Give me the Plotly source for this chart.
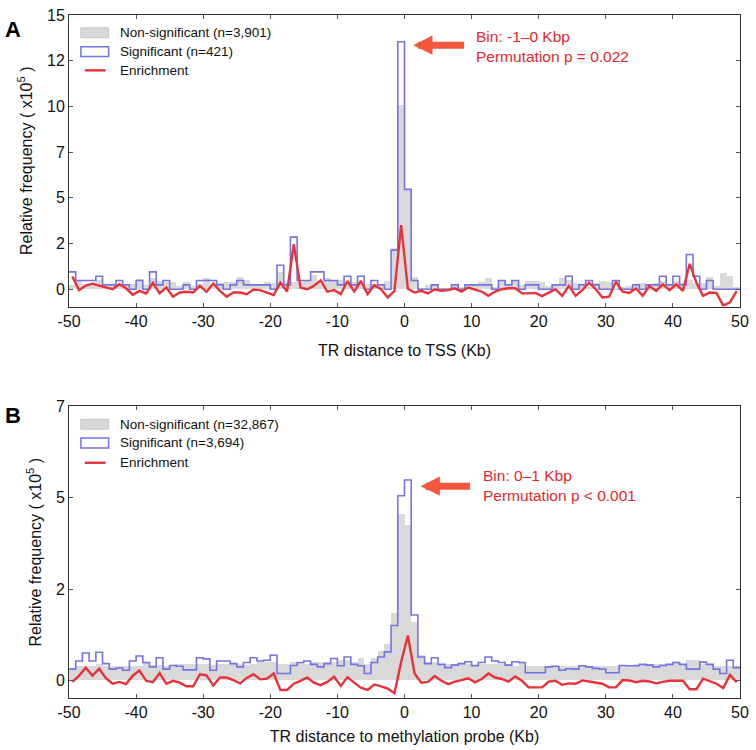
import plotly.graph_objects as go

# ---------------- data ----------------
bin_left = list(range(-50, 50))          # 1-Kbp bins, left edges
bin_center = [b + 0.5 for b in bin_left]
x_ticks = [-50, -40, -30, -20, -10, 0, 10, 20, 30, 40, 50]
x_ticktext = ["-50", "-40", "-30", "-20", "-10", "0", "10", "20", "30", "40", "50"]

yA_ticks = [0, 2.5, 5, 7.5, 10, 12.5, 15]
yA_ticktext = ["0", "2", "5", "7", "10", "12", "15"]
yB_ticks = [0, 2.5, 5, 7.5]
yB_ticktext = ["0", "2", "5", "7"]

# Panel A (TR distance to TSS)
nonsig_A = [0.25, 0.52, 0.28, 0.18, 0.5, 0.15, 0.24, 0.2, 0.19, 0.3,
            0.56, 0.23, 0.6, 0.46, 0.38, 0.41, 0.18, 0.38, 0.18, 0.3,
            0.6, 0.17, 0.33, 0.41, 0.42, 0.65, 0.5, 0.26, 0.29, 0.42,
            0.32, 0.96, 0.37, 0.4, 0.39, 0.475, 0.77, 0.46, 0.6, 0.52,
            0.5, 0.26, 0.37, 0.26, 0.27, 0.26, 0.24, 0.45, 2.24, 10.05,
            5.44, 0.65, 0.09, 0.23, 0.24, 0.09, 0.05, 0.19, 0.13, 0.15,
            0.24, 0.37, 0.6, 0.13, 0.475, 0.19, 0.43, 0.23, 0.47, 0.44,
            0.38, 0.2, 0.24, 0.6, 0.53, 0.36, 0.29, 0.12, 0.35, 0.45,
            0.41, 0.07, 0.13, 0.2, 0.2, 0.36, 0.06, 0.33, 0.44, 0.29,
            0.44, 0.33, 0.51, 0.35, 0.36, 0.65, 0.2, 0.9, 0.72, 0.1]
sig_A = [0.95, 0.475, 0.475, 0.475, 0.71, 0.24, 0.24, 0.475, 0.24, 0.0,
         0.475, 0.0, 0.95, 0.24, 0.475, 0.0, 0.0, 0.24, 0.0, 0.475,
         0.475, 0.475, 0.24, 0.0, 0.24, 0.475, 0.24, 0.24, 0.24, 0.24,
         0.0, 1.31, 0.24, 2.85, 0.475, 0.475, 0.95, 0.95, 0.475, 0.475,
         0.24, 0.71, 0.24, 0.71, 0.0, 0.475, 0.24, 0.0, 2.14, 13.54,
         5.46, 0.475, 0.0, 0.0, 0.24, 0.0, 0.0, 0.24, 0.0, 0.24,
         0.24, 0.24, 0.24, 0.0, 0.475, 0.24, 0.475, 0.0, 0.24, 0.24,
         0.0, 0.0, 0.24, 0.24, 0.71, 0.0, 0.24, 0.475, 0.24, 0.0,
         0.0, 0.475, 0.0, 0.0, 0.24, 0.0, 0.24, 0.24, 0.71, 0.24,
         0.71, 0.24, 1.9, 0.71, 0.0, 0.475, 0.0, 0.0, 0.0, 0.0]
enrich_A = [0.7, -0.05, 0.2, 0.3, 0.2, 0.09, 0.0, 0.27, 0.05, -0.3,
            -0.09, -0.23, 0.34, -0.22, 0.09, -0.41, -0.18, -0.14, -0.18, 0.18,
            -0.14, 0.31, -0.09, -0.41, -0.18, -0.18, -0.27, -0.02, -0.05, -0.18,
            -0.32, 0.36, -0.13, 2.47, 0.09, 0.0, 0.18, 0.49, -0.13, -0.05,
            -0.27, 0.45, -0.13, 0.45, -0.27, 0.22, 0.0, -0.45, -0.1, 3.5,
            0.02, -0.18, -0.09, -0.23, 0.0, -0.09, -0.05, 0.05, -0.13, 0.09,
            0.0, -0.13, -0.36, -0.13, 0.0, 0.05, 0.05, -0.23, -0.23, -0.2,
            -0.38, -0.2, 0.0, -0.36, 0.18, -0.36, -0.05, 0.36, 0.0, -0.45,
            -0.41, 0.41, -0.13, -0.2, 0.04, -0.36, 0.18, -0.09, 0.27, -0.05,
            0.27, -0.09, 1.39, 0.36, -0.36, -0.18, -0.2, -0.9, -0.72, -0.1]

# Panel B (TR distance to methylation probe)
nonsig_B = [0.35, 0.4, 0.4, 0.4, 0.45, 0.4, 0.4, 0.38, 0.38, 0.4,
            0.4, 0.5, 0.42, 0.42, 0.4, 0.42, 0.45, 0.45, 0.45, 0.45,
            0.45, 0.42, 0.45, 0.45, 0.45, 0.45, 0.42, 0.45, 0.5, 0.5,
            0.5, 0.45, 0.45, 0.5, 0.5, 0.45, 0.5, 0.5, 0.5, 0.5,
            0.55, 0.55, 0.5, 0.6, 0.45, 0.6, 0.8, 1.0, 1.85, 4.55,
            4.25, 1.6, 0.7, 0.5, 0.5, 0.45, 0.45, 0.45, 0.45, 0.45,
            0.45, 0.45, 0.45, 0.45, 0.45, 0.45, 0.4, 0.5, 0.4, 0.4,
            0.4, 0.4, 0.4, 0.4, 0.4, 0.4, 0.4, 0.4, 0.4, 0.4,
            0.4, 0.4, 0.4, 0.4, 0.45, 0.45, 0.45, 0.45, 0.45, 0.45,
            0.5, 0.45, 0.55, 0.55, 0.45, 0.45, 0.4, 0.4, 0.4, 0.4]
sig_B = [0.32, 0.54, 0.76, 0.54, 0.78, 0.47, 0.32, 0.35, 0.29, 0.54,
         0.68, 0.5, 0.38, 0.63, 0.32, 0.42, 0.4, 0.3, 0.3, 0.63,
         0.6, 0.29, 0.54, 0.54, 0.47, 0.38, 0.5, 0.63, 0.54, 0.56,
         0.7, 0.2, 0.2, 0.42, 0.5, 0.54, 0.45, 0.38, 0.47, 0.61,
         0.41, 0.65, 0.45, 0.41, 0.2, 0.5, 0.65, 0.79, 1.51, 5.06,
         5.49, 1.8, 0.65, 0.47, 0.63, 0.45, 0.36, 0.43, 0.47, 0.52,
         0.41, 0.5, 0.65, 0.54, 0.5, 0.43, 0.52, 0.5, 0.22, 0.22,
         0.22, 0.38, 0.4, 0.29, 0.33, 0.32, 0.41, 0.38, 0.34, 0.32,
         0.22, 0.22, 0.42, 0.41, 0.41, 0.45, 0.43, 0.38, 0.42, 0.45,
         0.5, 0.45, 0.32, 0.32, 0.51, 0.45, 0.32, 0.2, 0.56, 0.36]
enrich_B = [-0.03, 0.14, 0.36, 0.14, 0.33, 0.07, -0.08, -0.03, -0.09, 0.14,
            0.28, 0.0, -0.04, 0.21, -0.08, 0.0, -0.05, -0.15, -0.15, 0.18,
            0.15, -0.13, 0.09, 0.09, 0.02, -0.07, 0.08, 0.18, 0.04, 0.06,
            0.2, -0.25, -0.25, -0.08, 0.0, 0.09, -0.05, -0.12, -0.03, 0.11,
            -0.14, 0.1, -0.05, -0.19, -0.25, -0.1, -0.15, -0.21, -0.34, 0.51,
            1.24, 0.2, -0.05, -0.03, 0.13, 0.0, -0.09, -0.02, 0.02, 0.07,
            -0.04, 0.05, 0.2, 0.09, 0.05, -0.02, 0.12, 0.0, -0.18, -0.18,
            -0.18, -0.02, 0.0, -0.11, -0.07, -0.08, 0.01, -0.02, -0.06, -0.08,
            -0.18, -0.18, 0.02, 0.01, -0.04, 0.0, -0.02, -0.07, -0.03, 0.0,
            0.0, 0.0, -0.23, -0.23, 0.06, 0.0, -0.08, -0.2, 0.16, -0.04]

legend_A = ["Non-significant (n=3,901)", "Significant (n=421)", "Enrichment"]
legend_B = ["Non-significant (n=32,867)", "Significant (n=3,694)", "Enrichment"]

# ---------------- styles ----------------
GRAY = "#d9d9d9"
BLUE = "#7373e6"
RED = "#e8323a"
ARROW = "#f4583c"
TXT_RED = "#e8262b"
NARROW = "Liberation Sans Narrow, Arial Narrow, Liberation Sans, Arial"
SANS = "Liberation Sans, Arial, Helvetica"

# pixel geometry of the page
W, H = 756, 750
L, R, T, B = 69, 9, 7, 52
PW, PH = W - L - R, H - T - B


def px(xp):
    return (xp - L) / PW


def py(yp):
    return (H - B - yp) / PH


fig = go.Figure()


def add_panel(nonsig, sig, enrich, xa, ya):
    fig.add_trace(go.Bar(x=bin_center, y=nonsig, width=1.0, marker=dict(color=GRAY, line=dict(width=0)),
                         xaxis=xa, yaxis=ya, showlegend=False, hoverinfo="skip"))
    step_x = bin_left + [50]
    step_y = sig + [sig[-1]]
    fig.add_trace(go.Scatter(x=step_x, y=step_y, mode="lines", line=dict(color=BLUE, width=1.6, shape="hv"),
                             xaxis=xa, yaxis=ya, showlegend=False, hoverinfo="skip"))
    fig.add_trace(go.Scatter(x=bin_center, y=enrich, mode="lines", line=dict(color=RED, width=2.4),
                             xaxis=xa, yaxis=ya, showlegend=False, hoverinfo="skip"))


add_panel(nonsig_A, sig_A, enrich_A, "x", "y")
add_panel(nonsig_B, sig_B, enrich_B, "x2", "y2")

domA = [py(302), py(7)]
domB = [py(698), py(403)]

axis_common = dict(showline=True, linecolor="#333333", linewidth=1, mirror="ticks", ticks="inside",
                   ticklen=4, tickcolor="#555555", showgrid=False, zeroline=False,
                   tickfont=dict(family=NARROW, size=16, color="#111111"))
title_font = dict(family=NARROW, size=16, color="#111")

fig.update_layout(
    width=W, height=H, margin=dict(l=L, r=R, t=T, b=B),
    paper_bgcolor="white", plot_bgcolor="white", bargap=0, barmode="overlay",
    xaxis=dict(domain=[0, 1], anchor="y", range=[-50, 50], tickvals=x_ticks, ticktext=x_ticktext,
               title=dict(text="TR distance to TSS (Kb)", font=title_font, standoff=16),
               **axis_common),
    yaxis=dict(domain=domA, anchor="x", range=[-0.95, 15], tickvals=yA_ticks, ticktext=yA_ticktext,
               title=dict(text="Relative frequency ( x10<sup>5</sup> )", font=title_font, standoff=10),
               **axis_common),
    xaxis2=dict(domain=[0, 1], anchor="y2", range=[-50, 50], tickvals=x_ticks, ticktext=x_ticktext,
                title=dict(text="TR distance to methylation probe (Kb)", font=title_font, standoff=10),
                **axis_common),
    yaxis2=dict(domain=domB, anchor="x2", range=[-0.47, 7.5], tickvals=yB_ticks, ticktext=yB_ticktext,
                title=dict(text="Relative frequency ( x10<sup>5</sup> )", font=title_font, standoff=10),
                **axis_common),
)

shapes = []
annotations = []


def legend(labels, y_rows):
    g, b, r = y_rows
    shapes.append(dict(type="rect", xref="paper", yref="paper", x0=px(81), x1=px(109), y0=py(g + 5), y1=py(g - 5),
                       fillcolor=GRAY, line=dict(color="#c4c4c4", width=1)))
    shapes.append(dict(type="rect", xref="paper", yref="paper", x0=px(81), x1=px(109), y0=py(b + 5), y1=py(b - 5),
                       fillcolor="white", line=dict(color=BLUE, width=1.5)))
    shapes.append(dict(type="line", xref="paper", yref="paper", x0=px(85), x1=px(106), y0=py(r), y1=py(r),
                       line=dict(color=RED, width=2.4)))
    for lab, yy in zip(labels, y_rows):
        annotations.append(dict(text=lab, xref="paper", yref="paper", x=px(119), y=py(yy), xanchor="left",
                                yanchor="middle", showarrow=False, font=dict(family=SANS, size=13.5, color="#111")))


legend(legend_A, (25, 44, 63))
legend(legend_B, (421, 440, 460))

# arrows + annotation text
annotations.append(dict(x=1.3, y=13.35, xref="x", yref="y", ax=9.1, ay=13.35, axref="x", ayref="y",
                        text="", showarrow=True, arrowhead=2, arrowsize=0.55, arrowwidth=7, arrowcolor=ARROW))
annotations.append(dict(x=10.3, y=13.3, xref="x", yref="y", text="Bin: -1–0 Kbp<br>Permutation p = 0.022",
                        showarrow=False, xanchor="left", yanchor="middle", align="left",
                        font=dict(family=SANS, size=15.5, color=TXT_RED)))
annotations.append(dict(x=2.4, y=5.32, xref="x2", yref="y2", ax=10.0, ay=5.32, axref="x2", ayref="y2",
                        text="", showarrow=True, arrowhead=2, arrowsize=0.55, arrowwidth=7, arrowcolor=ARROW))
annotations.append(dict(x=11.35, y=5.35, xref="x2", yref="y2", text="Bin: 0–1 Kbp<br>Permutation p &lt; 0.001",
                        showarrow=False, xanchor="left", yanchor="middle", align="left",
                        font=dict(family=SANS, size=15.5, color=TXT_RED)))

# panel letters
annotations.append(dict(text="<b>A</b>", xref="paper", yref="paper", x=(12 - L) / PW, y=py(22), xanchor="center",
                        yanchor="middle", showarrow=False, font=dict(family=SANS, size=22, color="black")))
annotations.append(dict(text="<b>B</b>", xref="paper", yref="paper", x=(12 - L) / PW, y=py(412), xanchor="center",
                        yanchor="middle", showarrow=False, font=dict(family=SANS, size=22, color="black")))

fig.update_layout(shapes=shapes, annotations=annotations)
fig.write_html("out.html", config={"displayModeBar": False},
               post_script="document.body.style.margin='0px';")
